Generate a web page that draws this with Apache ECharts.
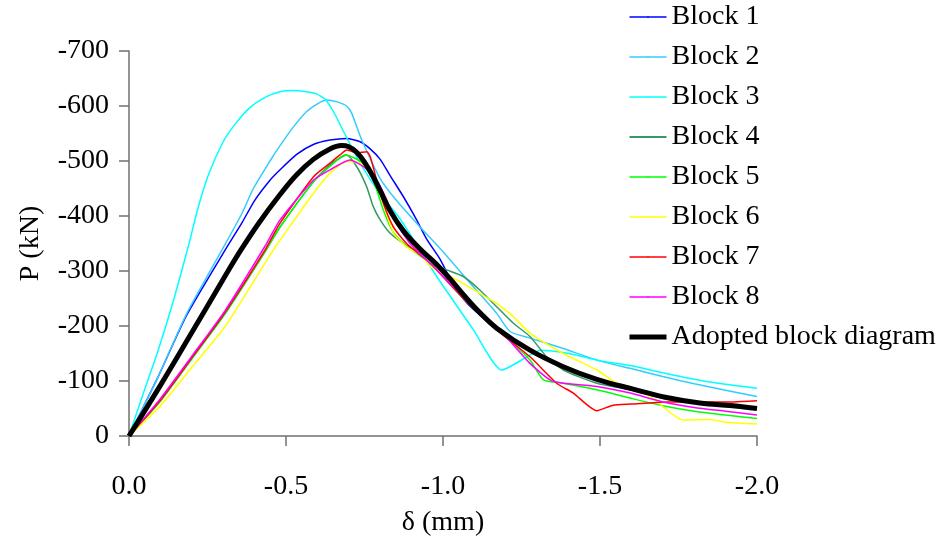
<!DOCTYPE html>
<html>
<head>
<meta charset="utf-8">
<script src="https://cdn.jsdelivr.net/npm/echarts@6/dist/echarts.min.js"></script>
<style>
html,body{margin:0;padding:0;background:#fff;}
#chart{width:940px;height:546px;}
</style>
</head>
<body>
<div id="chart"></div>
<script>
// δ (mm) and P (kN) pairs
const block1 = [[0,0],[-0.093,-108],[-0.184,-220],[-0.306,-338],[-0.36,-388],[-0.4,-428],[-0.449,-465],[-0.481,-484],[-0.534,-512],[-0.587,-530],[-0.64,-538],[-0.693,-541],[-0.736,-535],[-0.768,-522],[-0.8,-503],[-0.831,-474],[-0.874,-435],[-0.916,-393],[-0.948,-358],[-0.99,-322],[-1.033,-275],[-1.065,-249],[-1.097,-230],[-1.171,-194],[-1.277,-156],[-1.383,-126],[-1.49,-104],[-1.596,-89],[-1.712,-70],[-1.818,-60],[-1.925,-55],[-2.0,-52]];
const block2 = [[0,0],[-0.093,-108],[-0.184,-223],[-0.29,-332],[-0.36,-405],[-0.396,-450],[-0.449,-500],[-0.481,-528],[-0.525,-563],[-0.566,-590],[-0.6,-604],[-0.63,-611],[-0.665,-607],[-0.693,-600],[-0.709,-587],[-0.74,-540],[-0.8,-468],[-0.852,-428],[-0.927,-380],[-1.0,-335],[-1.097,-271],[-1.171,-223],[-1.213,-190],[-1.277,-178],[-1.383,-159],[-1.49,-138],[-1.596,-123],[-1.7,-108],[-1.8,-95],[-1.9,-83],[-2.0,-72]];
const block3 = [[0,0],[-0.05,-85],[-0.093,-156],[-0.141,-245],[-0.189,-345],[-0.22,-415],[-0.253,-475],[-0.3,-535],[-0.338,-567],[-0.385,-597],[-0.438,-617],[-0.481,-626],[-0.52,-628],[-0.555,-627],[-0.597,-622],[-0.625,-612],[-0.651,-590],[-0.682,-555],[-0.736,-496],[-0.8,-440],[-0.863,-395],[-0.98,-290],[-1.097,-193],[-1.187,-120],[-1.277,-147],[-1.309,-156],[-1.4,-150],[-1.5,-137],[-1.596,-128],[-1.7,-115],[-1.8,-103],[-1.9,-94],[-2.0,-87]];
const block4 = [[0,0],[-0.1,-65],[-0.2,-142],[-0.306,-223],[-0.433,-335],[-0.481,-380],[-0.587,-462],[-0.64,-493],[-0.693,-511],[-0.725,-490],[-0.757,-453],[-0.778,-417],[-0.8,-393],[-0.831,-369],[-0.874,-350],[-0.927,-332],[-0.959,-314],[-1.012,-302],[-1.065,-290],[-1.118,-265],[-1.171,-235],[-1.224,-205],[-1.277,-181],[-1.33,-144],[-1.383,-120],[-1.49,-96],[-1.596,-84],[-1.7,-68],[-1.8,-60],[-1.9,-53],[-2.0,-48]];
const block5 = [[0,0],[-0.1,-63],[-0.2,-140],[-0.306,-222],[-0.433,-335],[-0.481,-380],[-0.587,-462],[-0.64,-490],[-0.688,-511],[-0.72,-505],[-0.746,-495],[-0.778,-465],[-0.81,-411],[-0.842,-370],[-0.884,-345],[-0.959,-314],[-1.065,-250],[-1.171,-196],[-1.277,-138],[-1.32,-102],[-1.383,-96],[-1.49,-84],[-1.596,-69],[-1.7,-55],[-1.8,-45],[-1.9,-38],[-2.0,-32]];
const block6 = [[0,0],[-0.1,-55],[-0.2,-125],[-0.306,-199],[-0.459,-338],[-0.481,-356],[-0.587,-441],[-0.64,-478],[-0.693,-499],[-0.736,-496],[-0.778,-471],[-0.8,-441],[-0.842,-369],[-0.884,-344],[-0.937,-326],[-0.959,-308],[-1.044,-284],[-1.118,-259],[-1.171,-241],[-1.224,-217],[-1.277,-187],[-1.383,-150],[-1.49,-120],[-1.553,-96],[-1.66,-72],[-1.765,-29],[-1.85,-30],[-1.9,-25],[-2.0,-22]];
const block7 = [[0,0],[-0.1,-65],[-0.2,-142],[-0.306,-225],[-0.433,-338],[-0.481,-387],[-0.587,-471],[-0.64,-496],[-0.672,-511],[-0.693,-520],[-0.725,-515],[-0.757,-517],[-0.768,-508],[-0.789,-465],[-0.81,-423],[-0.842,-380],[-0.884,-350],[-0.959,-314],[-1.065,-250],[-1.171,-193],[-1.277,-144],[-1.362,-96],[-1.415,-78],[-1.49,-46],[-1.542,-56],[-1.6,-58],[-1.712,-62],[-1.818,-62],[-1.925,-62],[-2.0,-64]];
const block8 = [[0,0],[-0.1,-68],[-0.2,-145],[-0.306,-228],[-0.433,-345],[-0.481,-393],[-0.587,-465],[-0.64,-484],[-0.704,-502],[-0.746,-490],[-0.789,-465],[-0.821,-429],[-0.852,-387],[-0.895,-350],[-0.959,-314],[-1.065,-253],[-1.171,-199],[-1.277,-132],[-1.341,-102],[-1.383,-96],[-1.49,-90],[-1.596,-78],[-1.7,-62],[-1.8,-52],[-1.9,-45],[-2.0,-38]];
const adopted = [[0,0],[-0.1,-92],[-0.2,-188],[-0.3,-285],[-0.354,-336],[-0.412,-386],[-0.481,-439],[-0.534,-475],[-0.587,-503],[-0.64,-522],[-0.677,-528],[-0.7,-526],[-0.725,-516],[-0.75,-498],[-0.778,-471],[-0.8,-446],[-0.831,-410],[-0.874,-373],[-0.927,-340],[-0.98,-312],[-1.022,-286],[-1.065,-257],[-1.118,-224],[-1.171,-196],[-1.277,-156],[-1.383,-126],[-1.49,-103],[-1.6,-86],[-1.712,-70],[-1.818,-60],[-1.925,-55],[-2.0,-50]];

const seriesNames = ['Block 1','Block 2','Block 3','Block 4','Block 5','Block 6','Block 7','Block 8','Adopted block diagram'];
const seriesColors = ['#0000FF','#33CCFF','#00FFFF','#339966','#00FF00','#FFFF00','#FF0000','#FF00FF','#000000'];
const seriesData = [block1,block2,block3,block4,block5,block6,block7,block8,adopted];
const xTickLabels = ['0.0','-0.5','-1.0','-1.5','-2.0'];
const yTickLabels = ['0','-100','-200','-300','-400','-500','-600','-700'];

const FONT = '"Liberation Serif", "Times New Roman", serif';
const chart = echarts.init(document.getElementById('chart'), null, {renderer:'canvas'});
chart.setOption({
  animation: false,
  backgroundColor: '#ffffff',
  grid: {left: 129, right: 183, top: 51, bottom: 110, containLabel: false},
  legend: {
    orient: 'vertical',
    left: 622,
    top: -3,
    itemWidth: 37,
    itemHeight: 2,
    itemGap: 10,
    data: seriesNames.map((n, i) => ({
      name: n,
      lineStyle: {width: i === 8 ? 5 : (i === 3 ? 2 : 1.5), color: seriesColors[i]}
    })),
    textStyle: {fontFamily: FONT, fontSize: 28, color: '#000', lineHeight: 30}
  },
  xAxis: {
    type: 'value',
    min: -2, max: 0, interval: 0.5,
    inverse: true,
    name: 'δ (mm)',
    nameLocation: 'middle',
    nameGap: 73,
    nameTextStyle: {fontFamily: FONT, fontSize: 28, color: '#000'},
    axisLine: {onZero: false, lineStyle: {color: '#707070', width: 1.5}},
    axisTick: {show: true, inside: false, length: 10, lineStyle: {color: '#707070', width: 1.5}},
    axisLabel: {fontFamily: FONT, fontSize: 28, color: '#000', margin: 37,
      formatter: v => xTickLabels[Math.round(-v / 0.5)]},
    splitLine: {show: false}
  },
  yAxis: {
    type: 'value',
    min: -700, max: 0, interval: 100,
    inverse: true,
    name: 'P (kN)',
    nameLocation: 'middle',
    nameGap: 84,
    nameRotate: 90,
    nameTextStyle: {fontFamily: FONT, fontSize: 28, color: '#000'},
    axisLine: {show: true, onZero: false, lineStyle: {color: '#707070', width: 1.5}},
    axisTick: {show: true, inside: false, length: 10, lineStyle: {color: '#707070', width: 1.5}},
    axisLabel: {fontFamily: FONT, fontSize: 28, color: '#000', margin: 20,
      formatter: v => yTickLabels[Math.round(-v / 100)]},
    splitLine: {show: false}
  },
  series: seriesNames.map((n, i) => ({
    name: n,
    type: 'line',
    data: seriesData[i],
    showSymbol: false,
    symbol: 'none',
    smooth: i === 8 ? 0.4 : 0.2,
    color: seriesColors[i],
    lineStyle: {color: seriesColors[i], width: i === 8 ? 5 : 1.5},
    z: i === 8 ? 3 : 2
  }))
});
</script>
</body>
</html>
